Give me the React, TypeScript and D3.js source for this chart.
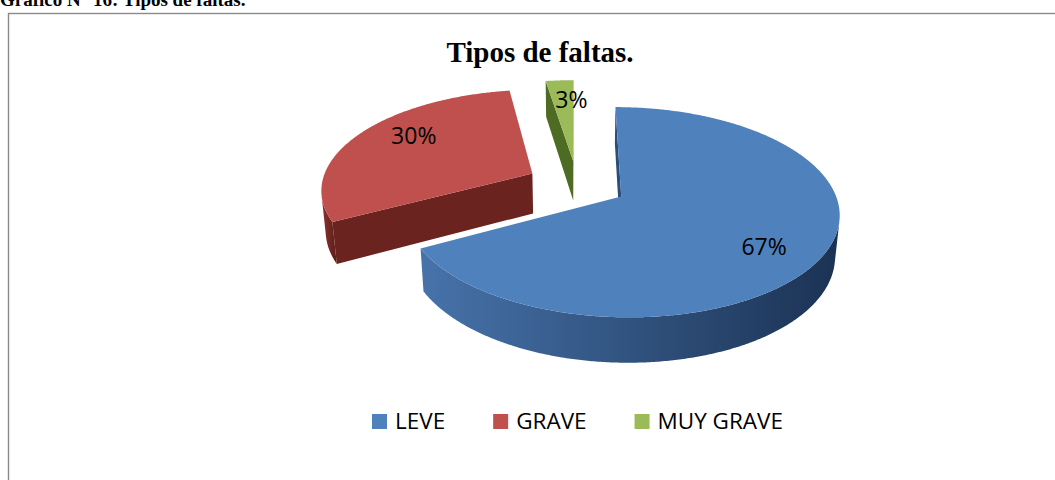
import React, { useEffect, useRef } from 'react';
import * as d3 from 'd3';

// ---- data ----
const categories = ['LEVE', 'GRAVE', 'MUY GRAVE'];
const values = [67.2, 30.3, 2.5];
const labels = ['67%', '30%', '3%'];
const chartTitle = 'Tipos de faltas.';
const captionText = 'Gráfico N° 16: Tipos de faltas.';

// ---- styles ----
const topColors = ['#4F81BD', '#C0504D', '#9BBB59'];
const sideLight = ['#4773ab', '#8c332d', '#6f8f36'];
const sideDark = ['#1b3253', '#5a1d19', '#44601e'];
const faceColors = ['#2b4d7a', '#6a231f', '#4e6b24'];

const W = 1055;
const H = 480;

export default function App() {
  const ref = useRef<SVGSVGElement>(null);

  useEffect(() => {
    const svg = d3.select(ref.current);
    svg.selectAll('*').remove();

    // border & caption
    svg.append('rect')
      .attr('x', 8.5).attr('y', 13.5)
      .attr('width', W + 40).attr('height', H + 40)
      .attr('fill', '#fff').attr('stroke', '#8a8a8a').attr('stroke-width', 1.4);

    svg.append('text')
      .attr('x', 0).attr('y', 6)
      .attr('font-family', '"Liberation Serif", "Times New Roman", serif')
      .attr('font-weight', 'bold').attr('font-size', 19)
      .attr('fill', '#000')
      .text(captionText);

    svg.append('text')
      .attr('x', 540).attr('y', 62)
      .attr('text-anchor', 'middle')
      .attr('font-family', '"Liberation Serif", "Times New Roman", serif')
      .attr('font-weight', 'bold').attr('font-size', 29)
      .attr('fill', '#000')
      .text(chartTitle);

    // ---- 3D projection ----
    const phi = (28 * Math.PI) / 180;
    const sinP = Math.sin(phi), cosP = Math.cos(phi);
    const Dcam = 6;
    const S = 211;
    const cx = 577, cy = 184;
    const thick = 0.22;
    const explode = 0.24;
    const cam = [0, Dcam * sinP, -Dcam * cosP];

    const proj = (X: number, Y: number, Z: number): [number, number] => {
      const depth = Z * cosP - Y * sinP;
      const k = Dcam / (Dcam + depth);
      const ys = -(Z * sinP + Y * cosP);
      return [cx + S * X * k, cy + S * ys * k];
    };

    const pie = d3.pie<number>().sort(null).startAngle(0).endAngle(2 * Math.PI);
    const arcs = pie(values);

    const slices = arcs.map((d, i) => {
      const mid = (d.startAngle + d.endAngle) / 2;
      return {
        i,
        a0: d.startAngle,
        a1: d.endAngle,
        mid,
        ox: explode * Math.sin(mid),
        oz: explode * Math.cos(mid),
      };
    });

    const line = d3.line<[number, number]>().curve(d3.curveLinearClosed);
    const defs = svg.append('defs');
    const g = svg.append('g');

    const order = [...slices].sort((a, b) => b.oz - a.oz);

    order.forEach((s) => {
      const pt = (t: number, r: number, Y: number) =>
        proj(s.ox + r * Math.sin(t), Y, s.oz + r * Math.cos(t));
      const steps = Math.max(2, Math.ceil((s.a1 - s.a0) / (Math.PI / 360)));
      const angles = d3.range(steps + 1).map((j) => s.a0 + ((s.a1 - s.a0) * j) / steps);

      // radial faces
      const A = [s.ox, -thick / 2, s.oz];
      const faceVisible = (n: number[]) =>
        n[0] * (cam[0] - A[0]) + n[1] * (cam[1] - A[1]) + n[2] * (cam[2] - A[2]) > 0;
      const radial = (t: number) => [
        pt(t, 0, 0), pt(t, 1, 0), pt(t, 1, -thick), pt(t, 0, -thick),
      ] as [number, number][];
      const nStart = [-Math.cos(s.a0), 0, Math.sin(s.a0)];
      const nEnd = [Math.cos(s.a1), 0, -Math.sin(s.a1)];
      if (faceVisible(nStart)) {
        g.append('path').attr('d', line(radial(s.a0))).attr('fill', faceColors[s.i]);
      }
      if (faceVisible(nEnd)) {
        g.append('path').attr('d', line(radial(s.a1))).attr('fill', faceColors[s.i]);
      }

      // outer side – visible sub-ranges
      const vis = angles.map((t) => {
        const P = [s.ox + Math.sin(t), -thick / 2, s.oz + Math.cos(t)];
        const n = [Math.sin(t), 0, Math.cos(t)];
        return n[0] * (cam[0] - P[0]) + n[1] * (cam[1] - P[1]) + n[2] * (cam[2] - P[2]) > 0;
      });
      const ranges: number[][] = [];
      let cur: number[] | null = null;
      angles.forEach((t, j) => {
        if (vis[j]) {
          if (!cur) { cur = []; ranges.push(cur); }
          cur.push(t);
        } else cur = null;
      });
      ranges.forEach((rg, ri) => {
        if (rg.length < 2) return;
        const topPts = rg.map((t) => pt(t, 1, 0));
        const botPts = rg.slice().reverse().map((t) => pt(t, 1, -thick));
        const poly = [...topPts, ...botPts];
        const xs = poly.map((p) => p[0]);
        const gid = `side-${s.i}-${ri}`;
        const grad = defs.append('linearGradient')
          .attr('id', gid).attr('gradientUnits', 'userSpaceOnUse')
          .attr('x1', d3.min(xs)!).attr('x2', d3.max(xs)!)
          .attr('y1', 0).attr('y2', 0);
        grad.append('stop').attr('offset', 0).attr('stop-color', sideLight[s.i]);
        grad.append('stop').attr('offset', 0.45).attr('stop-color', d3.interpolateRgb(sideLight[s.i], sideDark[s.i])(0.45));
        grad.append('stop').attr('offset', 1).attr('stop-color', sideDark[s.i]);
        g.append('path').attr('d', line(poly)).attr('fill', `url(#${gid})`);
      });

      // top face
      const topPoly: [number, number][] = [pt(0, 0, 0), ...angles.map((t) => pt(t, 1, 0))];
      g.append('path').attr('d', line(topPoly)).attr('fill', topColors[s.i]);
    });

    // data labels
    const labelR = 0.7;
    const labelNudge: [number, number][] = [[4, 11], [4, -9], [8, -3]];
    slices.forEach((s) => {
      const [lx, ly] = proj(
        s.ox + labelR * Math.sin(s.mid), 0, s.oz + labelR * Math.cos(s.mid)
      );
      svg.append('text')
        .attr('x', lx + labelNudge[s.i][0])
        .attr('y', ly + labelNudge[s.i][1])
        .attr('dy', '0.36em')
        .attr('text-anchor', 'middle')
        .attr('font-family', '"Open Sans", "Noto Sans", sans-serif')
        .attr('font-size', 23)
        .attr('fill', '#000')
        .text(labels[s.i]);
    });

    // legend
    const legend = svg.append('g');
    const sw = 15, gapText = 8, gapItem = 48;
    const items = categories.map((c, i) => {
      const gi = legend.append('g');
      gi.append('rect').attr('width', sw).attr('height', sw).attr('fill', topColors[i]);
      const t = gi.append('text')
        .attr('x', sw + gapText).attr('y', sw)
        .attr('font-family', '"Open Sans", "Noto Sans", sans-serif')
        .attr('font-size', 22.5).attr('fill', '#000')
        .text(c);
      const w = (t.node() as SVGTextElement).getComputedTextLength();
      return { gi, w: sw + gapText + w };
    });
    const total = d3.sum(items, (d) => d.w) + gapItem * (items.length - 1);
    let x = 577.5 - total / 2;
    items.forEach((it) => {
      it.gi.attr('transform', `translate(${x},414)`);
      x += it.w + gapItem;
    });
  }, []);

  return (
    <svg
      ref={ref}
      width={W}
      height={H}
      style={{ position: 'absolute', left: 0, top: 0, background: '#fff' }}
    />
  );
}
